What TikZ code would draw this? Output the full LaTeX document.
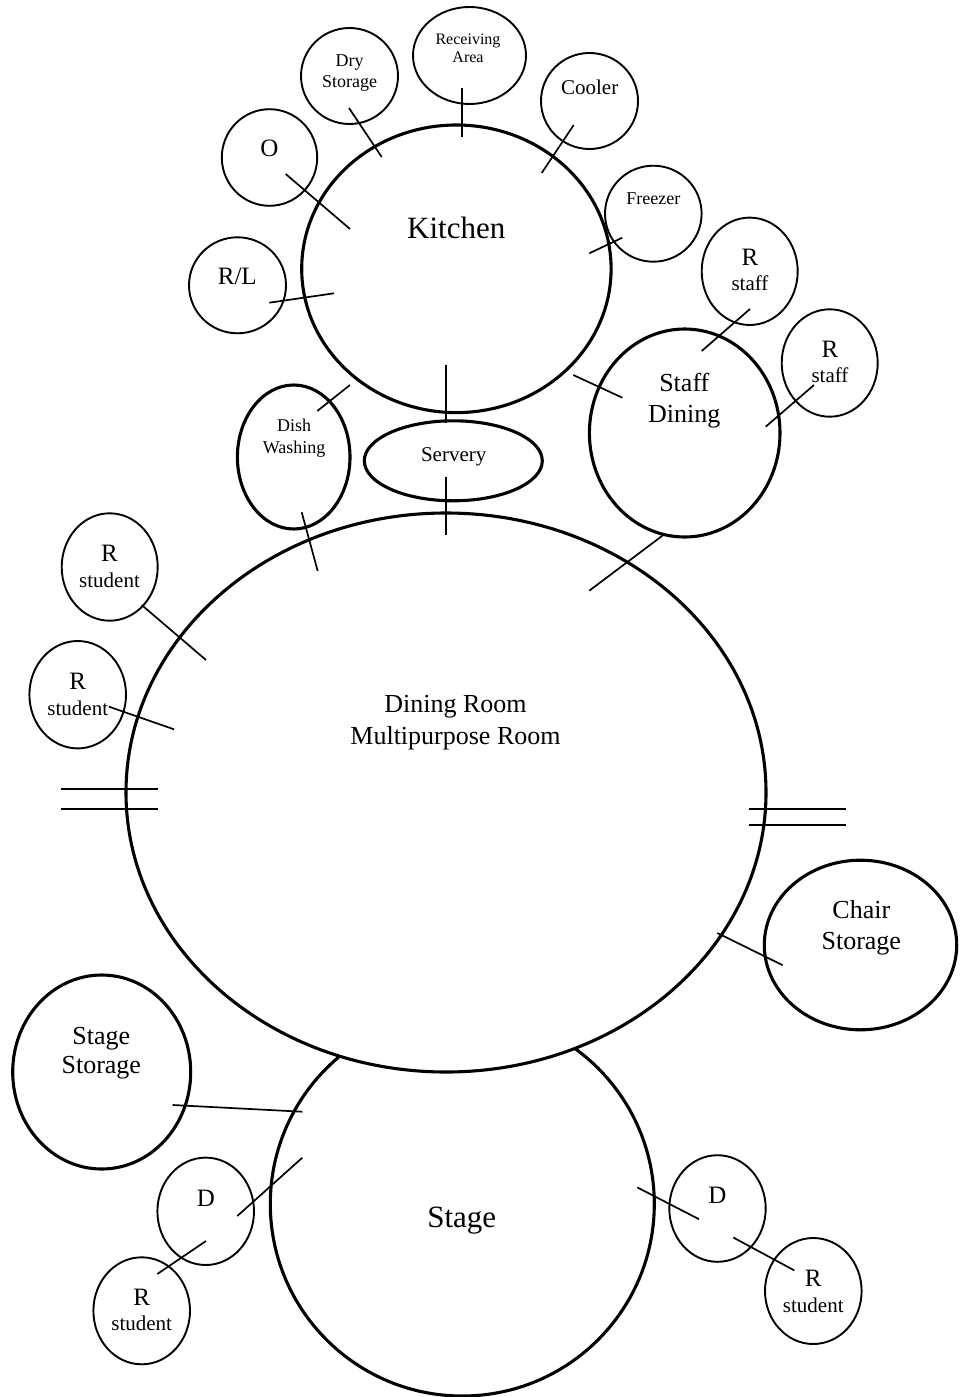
\documentclass[tikz,border=0pt]{standalone}
\usepackage{fontspec}
\setmainfont{Liberation Serif}
\usetikzlibrary{shapes.geometric}
\begin{document}
\begin{tikzpicture}[x=1pt,y=-1pt,
  bub/.style={draw, ellipse, inner sep=0pt, line width=1.9pt},
  bigbub/.style={draw, ellipse, inner sep=0pt, line width=3.1pt},
  link/.style={line width=1.7pt},
  lbl/.style={inner sep=0pt, anchor=base, align=center},
  tA/.style={font=\fontsize{31}{36}\selectfont},
  tC/.style={font=\fontsize{25}{29}\selectfont},
  tD/.style={font=\fontsize{21}{25}\selectfont},
  tE/.style={font=\fontsize{18}{21}\selectfont},
  tF/.style={font=\fontsize{16}{18}\selectfont},
  rs/.style={font=\fontsize{25}{25.7}\selectfont}
]
\useasboundingbox (0,0) rectangle (960,1397);
% bubbles
\node[bigbub, minimum width=384pt, minimum height=384pt] (stage) at (462.3,1204) {};
\node[bigbub, fill=white, minimum width=640pt, minimum height=559pt] (dining) at (446,792.5) {};
\node[bigbub, minimum width=309.4pt, minimum height=287.6pt] (kitchen) at (456.4,268.8) {};
\node[bub, minimum width=113pt, minimum height=97pt] (receiving) at (469.5,55.5) {};
\node[bub, minimum width=97pt, minimum height=96pt] (dry) at (349.5,76) {};
\node[bub, minimum width=97pt, minimum height=96pt] (cooler) at (589.5,101) {};
\node[bub, minimum width=95.4pt, minimum height=96.6pt] (o) at (269.5,157.5) {};
\node[bub, minimum width=97pt, minimum height=96pt] (rl) at (237.5,285.3) {};
\node[bub, minimum width=96.6pt, minimum height=96pt] (freezer) at (653.3,213.7) {};
\node[bub, minimum width=96pt, minimum height=107.4pt] (rstaffA) at (749.7,271.3) {};
\node[bub, minimum width=96pt, minimum height=107.4pt] (rstaffB) at (829.7,363) {};
\node[bigbub, minimum width=190.6pt, minimum height=208pt] (staff) at (684.7,433) {};
\node[bigbub, minimum width=112.6pt, minimum height=144pt] (dish) at (293.7,457) {};
\node[bigbub, minimum width=178pt, minimum height=80pt] (servery) at (453.3,460.8) {};
\node[bub, minimum width=96pt, minimum height=107.4pt] (rstuA) at (109.7,567) {};
\node[bub, minimum width=96.6pt, minimum height=107.4pt] (rstuB) at (77.7,694.7) {};
\node[bigbub, minimum width=192.4pt, minimum height=169.6pt] (chair) at (860.5,945) {};
\node[bigbub, minimum width=178pt, minimum height=194pt] (stagest) at (101.7,1072) {};
\node[bub, minimum width=96.6pt, minimum height=107.4pt] (dL) at (205.7,1211.3) {};
\node[bub, minimum width=96.6pt, minimum height=107pt] (rstuC) at (141.7,1310.8) {};
\node[bub, minimum width=96.4pt, minimum height=106.6pt] (dR) at (717.5,1208.5) {};
\node[bub, minimum width=96.6pt, minimum height=106pt] (rstuD) at (813.3,1291) {};
% connector ends
\coordinate (recvE) at (461.7,88);   \coordinate (kitRecv) at (461.7,137);
\coordinate (dryE) at (349,108);     \coordinate (kitDry) at (381.7,157);
\coordinate (coolE) at (573.7,125);  \coordinate (kitCool) at (541.7,173);
\coordinate (oE) at (285.7,174);     \coordinate (kitO) at (350,229);
\coordinate (rlE) at (269.3,302.7);  \coordinate (kitRl) at (334,293.3);
\coordinate (frzE) at (622.3,237.7); \coordinate (kitFrz) at (589.3,253.3);
\coordinate (dishK) at (317.3,411);  \coordinate (kitDish) at (350,385);
\coordinate (dishD) at (301.7,512.3); \coordinate (dinDish) at (317.7,571);
\coordinate (kitServ) at (446,365);  \coordinate (servK) at (446,423.3);
\coordinate (servD) at (446,476.7);  \coordinate (dinServ) at (446,535);
\coordinate (kitStaff) at (573.3,375); \coordinate (staffK) at (622.3,397.7);
\coordinate (rsaE) at (750,309);     \coordinate (staffRa) at (701.7,351);
\coordinate (rsbE) at (814,385);     \coordinate (staffRb) at (765.7,426.7);
\coordinate (staffD) at (663.3,535); \coordinate (dinStaff) at (589.3,590.7);
\coordinate (ruaE) at (141.7,605);   \coordinate (dinRa) at (206,660);
\coordinate (rubE) at (109,706.7);   \coordinate (dinRb) at (174,729.3);
\coordinate (dlA1) at (60.7,789.3);  \coordinate (dlA2) at (158.3,789.3);
\coordinate (dlB1) at (60.7,809.3);  \coordinate (dlB2) at (158.3,809.3);
\coordinate (drA1) at (749.3,809);   \coordinate (drA2) at (846,809);
\coordinate (drB1) at (749.3,825);   \coordinate (drB2) at (846,825);
\coordinate (dinChair) at (717.3,933); \coordinate (chairE) at (782.7,965.2);
\coordinate (ssE) at (172.7,1105);   \coordinate (stgSs) at (302.3,1111.7);
\coordinate (dlE) at (237.3,1216);   \coordinate (stgDl) at (302.3,1157.7);
\coordinate (dlR) at (206,1241);     \coordinate (rucE) at (157.3,1274);
\coordinate (stgDr) at (637.3,1187.4); \coordinate (drE) at (699,1219.2);
\coordinate (drR) at (733.3,1237.5); \coordinate (rudE) at (794.3,1270.4);
% connectors
\draw[link] (recvE) -- (kitRecv);
\draw[link] (dryE) -- (kitDry);
\draw[link] (coolE) -- (kitCool);
\draw[link] (oE) -- (kitO);
\draw[link] (rlE) -- (kitRl);
\draw[link] (frzE) -- (kitFrz);
\draw[link] (dishK) -- (kitDish);
\draw[link] (dishD) -- (dinDish);
\draw[link] (kitServ) -- (servK);
\draw[link] (servD) -- (dinServ);
\draw[link] (kitStaff) -- (staffK);
\draw[link] (rsaE) -- (staffRa);
\draw[link] (rsbE) -- (staffRb);
\draw[link] (staffD) -- (dinStaff);
\draw[link] (ruaE) -- (dinRa);
\draw[link] (rubE) -- (dinRb);
\draw[link] (dlA1) -- (dlA2);
\draw[link] (dlB1) -- (dlB2);
\draw[link] (drA1) -- (drA2);
\draw[link] (drB1) -- (drB2);
\draw[link] (dinChair) -- (chairE);
\draw[link] (ssE) -- (stgSs);
\draw[link] (dlE) -- (stgDl);
\draw[link] (dlR) -- (rucE);
\draw[link] (stgDr) -- (drE);
\draw[link] (drR) -- (rudE);
% labels (anchor base = baseline of the last line)
\node[lbl, tA] (kitchenT) at (456.3,238.3) {Kitchen};
\node[lbl, tF] (receivingT) at (468,62.3) {Receiving\\Area};
\node[lbl, font=\fontsize{18}{20.6}\selectfont] (dryT) at (349.7,87.3) {Dry\\Storage};
\node[lbl, tD] (coolerT) at (589.7,95) {Cooler};
\node[lbl, tC] (oT) at (269.5,156) {O};
\node[lbl, tC] (rlT) at (237.3,284) {R/L};
\node[lbl, tE] (freezerT) at (653.3,204) {Freezer};
\node[lbl, rs] (rstaffAT) at (750,290.7) {R\\{\fontsize{21}{25}\selectfont staff}};
\node[lbl, rs] (rstaffBT) at (830,382.7) {R\\{\fontsize{21}{25}\selectfont staff}};
\node[lbl, font=\fontsize{26}{30.6}\selectfont] (staffT) at (684.3,422.3) {Staff\\Dining};
\node[lbl, font=\fontsize{18}{21.6}\selectfont] (dishT) at (294.2,453.3) {Dish\\Washing};
\node[lbl, tD] (serveryT) at (453.7,461.7) {Servery};
\node[lbl, rs] (rstuAT) at (109.5,587.3) {R\\{\fontsize{21}{25}\selectfont student}};
\node[lbl, rs] (rstuBT) at (77.8,715) {R\\{\fontsize{21}{25}\selectfont student}};
\node[lbl, font=\fontsize{26}{32.3}\selectfont] (diningT) at (455.5,744.3) {Dining Room\\Multipurpose Room};
\node[lbl, font=\fontsize{26}{31.2}\selectfont] (chairT) at (861.3,949.7) {Chair\\Storage};
\node[lbl, font=\fontsize{26}{29.3}\selectfont] (stagestT) at (101.3,1073.3) {Stage\\Storage};
\node[lbl, tA] (stageT) at (461.7,1227.7) {Stage};
\node[lbl, tC] (dLT) at (205.8,1206) {D};
\node[lbl, rs] (rstuCT) at (141.7,1330.7) {R\\{\fontsize{21}{25}\selectfont student}};
\node[lbl, tC] (dRT) at (717.3,1203) {D};
\node[lbl, rs] (rstuDT) at (813.3,1312) {R\\{\fontsize{21}{25}\selectfont student}};
\end{tikzpicture}
\end{document}
